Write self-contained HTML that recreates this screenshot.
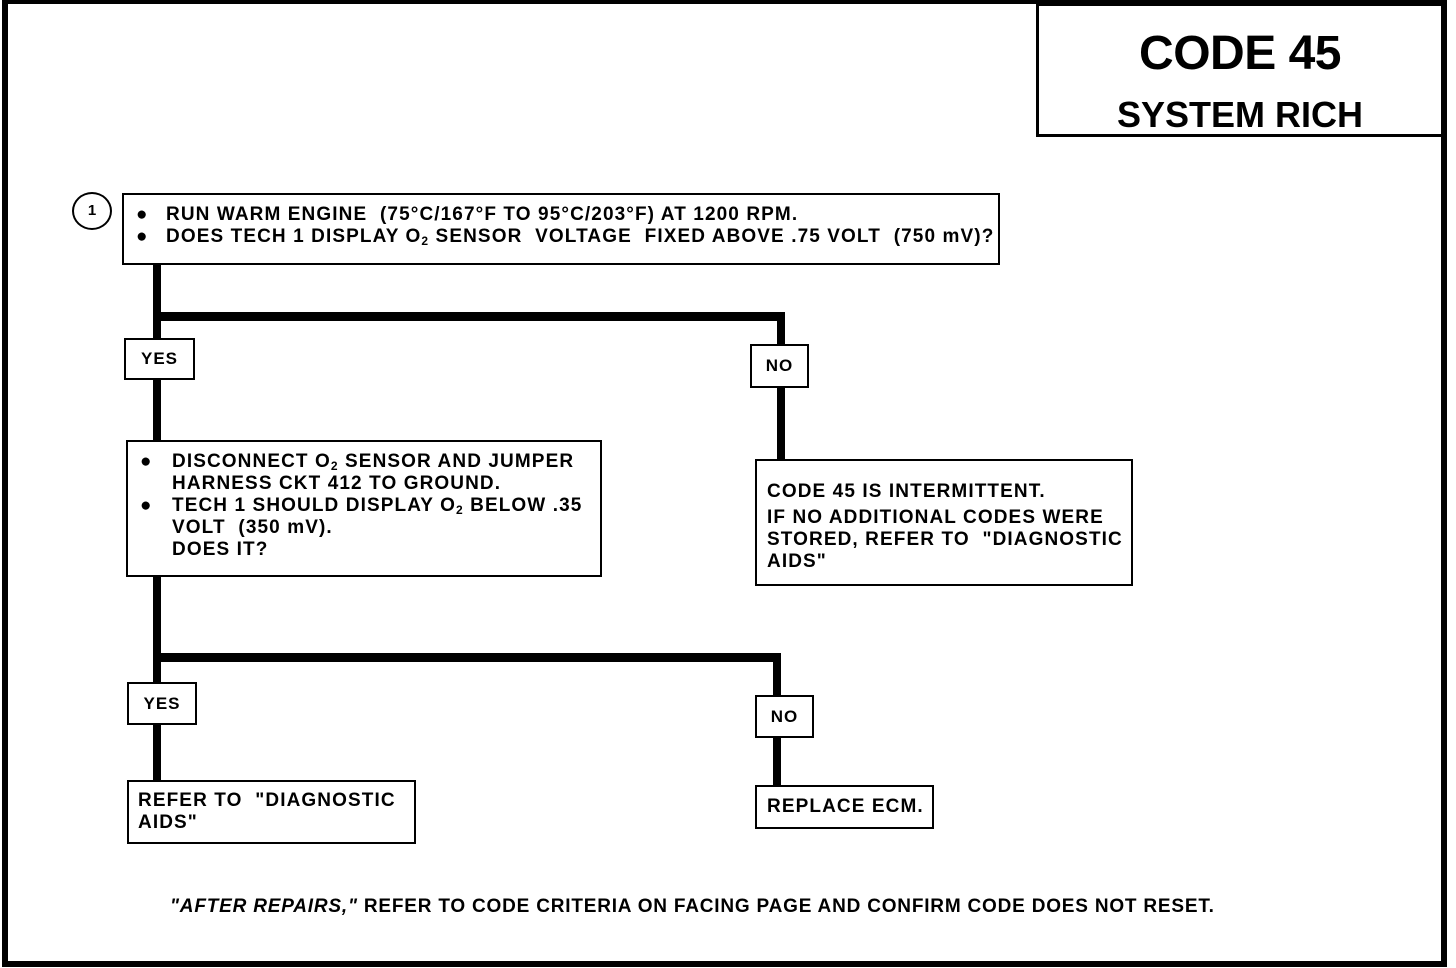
<!DOCTYPE html>
<html><head><meta charset="utf-8"><style>
body{margin:0;width:1456px;height:968px;background:#fff;position:relative;overflow:hidden;font-family:"Liberation Sans",sans-serif;font-weight:bold;color:#000}
div{position:absolute;box-sizing:border-box}
.b{border:2px solid #000;background:#fff}
.l{background:#000}
.t{font-size:19px;letter-spacing:1.1px;line-height:22px;white-space:nowrap}
.lab{font-size:17px;text-align:center;letter-spacing:1px}
sub{font-size:12px;vertical-align:-3px;line-height:0}
.bul{position:absolute;left:0}
</style></head><body>
<div class="l" style="left:2px;top:0;width:6px;height:966px"></div>
<div class="l" style="left:2px;top:0;width:1445px;height:4px"></div>
<div class="l" style="left:1441px;top:0;width:6px;height:967px"></div>
<div class="l" style="left:2px;top:961px;width:1445px;height:6px"></div>
<div class="b" style="left:1036px;top:3px;width:408px;height:134px;border-width:3px"></div>
<div style="left:1036px;top:26px;width:408px;text-align:center;font-size:48px;letter-spacing:-0.5px">CODE 45</div>
<div style="left:1036px;top:94px;width:408px;text-align:center;font-size:36px;letter-spacing:0px">SYSTEM RICH</div>
<div class="l" style="left:153px;top:262px;width:8px;height:180px"></div>
<div class="l" style="left:153px;top:312px;width:632px;height:9px"></div>
<div class="l" style="left:777px;top:312px;width:8px;height:150px"></div>
<div class="l" style="left:153px;top:574px;width:8px;height:208px"></div>
<div class="l" style="left:153px;top:653px;width:628px;height:9px"></div>
<div class="l" style="left:773px;top:653px;width:8px;height:134px"></div>
<div style="left:72px;top:192px;width:40px;height:38px;border:2px solid #000;border-radius:50%;background:#fff;font-size:15px;text-align:center;line-height:34px">1</div>
<div class="b" style="left:122px;top:193px;width:878px;height:72px"></div>
<div class="t" style="left:136px;top:204px"><span class="bul">●</span><span style="margin-left:30px">RUN WARM ENGINE&nbsp; (75°C/167°F TO 95°C/203°F) AT 1200 RPM.</span></div>
<div class="t" style="left:136px;top:226px"><span class="bul">●</span><span style="margin-left:30px">DOES TECH 1 DISPLAY O<sub>2</sub> SENSOR&nbsp; VOLTAGE&nbsp; FIXED ABOVE .75 VOLT&nbsp; (750 mV)?</span></div>
<div class="b lab" style="left:124px;top:338px;width:71px;height:42px;line-height:38px">YES</div>
<div class="b lab" style="left:750px;top:344px;width:59px;height:44px;line-height:40px">NO</div>
<div class="b" style="left:126px;top:440px;width:476px;height:137px"></div>
<div class="t" style="left:140px;top:451px">●</div>
<div class="t" style="left:172px;top:451px">DISCONNECT O<sub>2</sub> SENSOR AND JUMPER<br>HARNESS CKT 412 TO GROUND.</div>
<div class="t" style="left:140px;top:495px">●</div>
<div class="t" style="left:172px;top:495px">TECH 1 SHOULD DISPLAY O<sub>2</sub> BELOW .35<br>VOLT&nbsp; (350 mV).<br>DOES IT?</div>
<div class="b" style="left:755px;top:459px;width:378px;height:127px"></div>
<div class="t" style="left:767px;top:481px">CODE 45 IS INTERMITTENT.</div>
<div class="t" style="left:767px;top:507px">IF NO ADDITIONAL CODES WERE<br>STORED, REFER TO&nbsp; "DIAGNOSTIC<br>AIDS"</div>
<div class="b lab" style="left:127px;top:682px;width:70px;height:43px;line-height:39px">YES</div>
<div class="b lab" style="left:755px;top:695px;width:59px;height:43px;line-height:39px">NO</div>
<div class="b" style="left:127px;top:780px;width:289px;height:64px"></div>
<div class="t" style="left:138px;top:790px">REFER TO&nbsp; "DIAGNOSTIC<br>AIDS"</div>
<div class="b" style="left:755px;top:785px;width:179px;height:44px"></div>
<div class="t" style="left:767px;top:796px">REPLACE ECM.</div>
<div class="t" style="left:170px;top:896px;font-size:19px;letter-spacing:0.8px"><i>"AFTER REPAIRS,"</i> REFER TO CODE CRITERIA ON FACING PAGE AND CONFIRM CODE DOES NOT RESET.</div>
</body></html>
